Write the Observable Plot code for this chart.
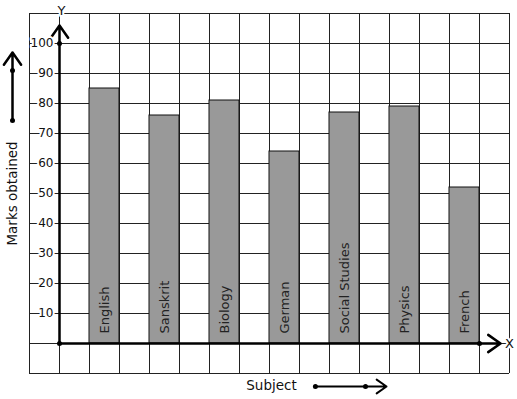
<!DOCTYPE html>
<html><head><meta charset="utf-8">
<script src="https://cdn.jsdelivr.net/npm/d3@7"></script>
<script src="https://cdn.jsdelivr.net/npm/@observablehq/plot@0.6"></script>
<style>body{margin:0;background:#fff} svg{display:block}</style>
</head><body><div id="chart"></div>
<script>
// ---- data ----
const subjects = ["English", "Sanskrit", "Biology", "German", "Social Studies", "Physics", "French"];
const marks = [85, 76, 81, 64, 77, 79, 52];
const yTickLabels = [10, 20, 30, 40, 50, 60, 70, 80, 90, 100];
const xAxisTitle = "Subject";
const yAxisTitle = "Marks obtained";

// graph-paper grid (one square = 1 unit across, 10 marks up)
const xGrid = d3.range(-1, 16);
const yGrid = d3.range(-10, 111, 10);

const bars = subjects.map((s, i) => ({subject: s, marks: marks[i], x1: 1 + 2 * i, x2: 2 + 2 * i}));

const font = "DejaVu Sans";
const halo = {stroke: "white", strokeWidth: 4};

const chart = Plot.plot({
  width: 517, height: 399,
  marginLeft: 29, marginRight: 8, marginTop: 13, marginBottom: 26,
  style: {fontFamily: font, background: "white", overflow: "visible"},
  x: {domain: [-1, 15], axis: null},
  y: {domain: [-10, 110], axis: null},
  marks: [
    // grid
    Plot.ruleX(xGrid, {x: d => d, y1: -10, y2: 110, stroke: "#222", strokeWidth: 1, strokeOpacity: 1}),
    Plot.ruleY(yGrid, {y: d => d, x1: -1, x2: 15, stroke: "#222", strokeWidth: 1, strokeOpacity: 1}),
    // bars
    Plot.rectY(bars, {x1: "x1", x2: "x2", y1: 0, y2: "marks", fill: "#999", stroke: "#111", strokeWidth: 1}),
    // bar labels
    Plot.text(bars, {x: d => (d.x1 + d.x2) / 2, y: 0, text: "subject", rotate: -90, textAnchor: "start",
      dy: -10, fontSize: 13, fill: "#222", fontFamily: font}),
    // axes with arrows
    Plot.arrow([{x1: 0, y1: 0, x2: 0, y2: 106}], {x1: "x1", y1: "y1", x2: "x2", y2: "y2",
      stroke: "black", strokeWidth: 2.5, headLength: 9, headAngle: 70}),
    Plot.arrow([{x1: 0, y1: 0, x2: 14.7, y2: 0}], {x1: "x1", y1: "y1", x2: "x2", y2: "y2",
      stroke: "black", strokeWidth: 2.5, headLength: 9, headAngle: 70}),
    Plot.dot([{x: 0, y: 0}, {x: 0, y: 100}, {x: 14, y: 0}], {x: "x", y: "y", r: 2.5, fill: "black"}),
    // y tick labels
    Plot.text(yTickLabels, {x: 0, y: d => d, text: d => String(d), textAnchor: "end", dx: -6,
      fontSize: 12, fill: "#111", ...halo}),
    // axis letters
    Plot.text(["Y"], {x: 0, y: 110, dx: 2, dy: -3, text: d => d, fontSize: 13, fill: "#111", ...halo}),
    Plot.text(["X"], {x: 15, y: 0, dx: 0, dy: 0, text: d => d, fontSize: 13, fill: "#111", ...halo}),
    // axis titles
    Plot.text([yAxisTitle], {x: -1, y: 50, dx: -17, text: d => d, rotate: -90, fontSize: 13.5, fill: "#111"}),
    Plot.text([xAxisTitle], {x: 7, y: -10, dy: 12, dx: 2, text: d => d, fontSize: 13.5, fill: "#111"}),
    // direction arrows beside the titles
    Plot.arrow([{x1: -1, y1: 74.3, x2: -1, y2: 97}], {x1: "x1", y1: "y1", x2: "x2", y2: "y2", dx: -17,
      stroke: "black", strokeWidth: 2.5, headLength: 9, headAngle: 70}),
    Plot.dot([{x: -1, y: 74.3}, {x: -1, y: 91}], {x: "x", y: "y", dx: -17, r: 2.5, fill: "black"}),
    Plot.arrow([{x1: 8.53, y1: -10, x2: 10.9, y2: -10}], {x1: "x1", y1: "y1", x2: "x2", y2: "y2", dy: 13,
      stroke: "black", strokeWidth: 2, headLength: 9, headAngle: 70}),
    Plot.dot([{x: 8.53, y: -10}, {x: 10.2, y: -10}], {x: "x", y: "y", dy: 13, r: 2.5, fill: "black"})
  ]
});
document.getElementById("chart").appendChild(chart);
</script>
</body></html>
